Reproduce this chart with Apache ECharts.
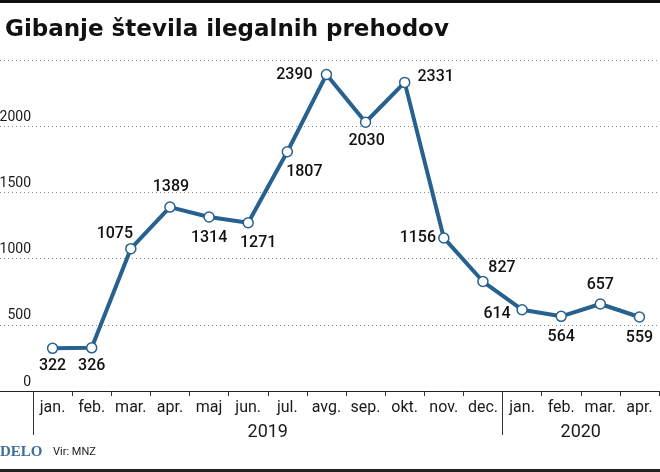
<!DOCTYPE html>
<html><head><meta charset="utf-8">
<script src="https://cdn.jsdelivr.net/npm/echarts@6/dist/echarts.min.js"></script>
<style>html,body{margin:0;padding:0;background:#fff}#c{width:660px;height:472px}</style>
</head><body><div id="c"></div>
<script>
const months = ['jan.','feb.','mar.','apr.','maj','jun.','jul.','avg.','sep.','okt.','nov.','dec.','jan.','feb.','mar.','apr.'];
const values = [322,326,1075,1389,1314,1271,1807,2390,2030,2331,1156,827,614,564,657,559];
const years = ['2019','2020'];
const monthsInYear = [12,4];
const yTicks = [0,500,1000,1500,2000,2500];
// label placement relative to each point (px)
const labelOffsets = [[0,18],[0,18],[-16,-15],[1,-20],[0,21],[10,20],[17,20],[-32,0],[1,19],[31,-5],[-26,0],[19,-14],[-25,4],[0,21],[0,-19],[0,21]];

const FONT = "Roboto, 'Liberation Sans', sans-serif";
const BLUE = '#27618f';

const yearStarts = [], yearCenters = [];
let acc = 0;
monthsInYear.forEach(n => { yearStarts.push(acc); yearCenters.push(acc + n/2); acc += n; });

const chart = echarts.init(document.getElementById('c'), null, {renderer:'canvas'});
chart.setOption({
  backgroundColor:'#fff',
  animation:false,
  title:{text:'Gibanje števila ilegalnih prehodov', left:0, top:14,
    textStyle:{fontFamily:"'DejaVu Sans', sans-serif", fontWeight:'bold', fontSize:23, color:'#111'}},
  grid:[
    {left:0, right:0, top:60, bottom:81, containLabel:false, outerBoundsMode:'none'},
    {left:33, right:1, top:60, bottom:81, containLabel:false, outerBoundsMode:'none'}
  ],
  xAxis:[
    {gridIndex:0, type:'value', min:0, max:1, axisLine:{show:true, lineStyle:{color:'#222', width:1}},
      axisTick:{show:false}, axisLabel:{show:false}, splitLine:{show:false}},
    {gridIndex:1, type:'category', data:months, boundaryGap:true,
      axisLine:{show:false},
      axisTick:{show:true, length:5, interval:0, lineStyle:{color:'#333'}},
      axisLabel:{interval:0, margin:9, fontFamily:FONT, fontSize:16, color:'#1a1a1a'}},
    {gridIndex:1, type:'value', min:0, max:acc, position:'bottom',
      axisLine:{show:false}, splitLine:{show:false},
      axisTick:{show:true, length:44, customValues:yearStarts, lineStyle:{color:'#333'}},
      axisLabel:{customValues:yearCenters, margin:32, fontFamily:FONT, fontSize:18, color:'#1a1a1a',
        formatter:function(v){ const i = yearCenters.indexOf(v); return i>=0 ? years[i] : ''; }}}
  ],
  yAxis:[
    {gridIndex:0, type:'value', min:yTicks[0], max:yTicks[yTicks.length-1], interval:yTicks[1]-yTicks[0],
      axisLine:{show:false}, axisTick:{show:false},
      splitLine:{show:true, lineStyle:{color:'#8a8a8a', type:[1,3], width:1}},
      axisLabel:{inside:true, align:'right', verticalAlign:'bottom', margin:31, padding:[0,0,2,0], showMaxLabel:false,
        fontFamily:FONT, fontSize:14, color:'#1a1a1a', formatter:function(v){ return String(v); }}},
    {gridIndex:1, type:'value', min:yTicks[0], max:yTicks[yTicks.length-1], show:false}
  ],
  series:[{
    type:'line', xAxisIndex:1, yAxisIndex:1,
    data: values.map((v,i)=>({value:v, label:{offset:labelOffsets[i]}})),
    symbol:'circle', symbolSize:10,
    lineStyle:{color:BLUE, width:4},
    itemStyle:{color:'#fff', borderColor:BLUE, borderWidth:1.5},
    label:{show:true, position:'inside', fontFamily:FONT, fontSize:16, fontWeight:500, color:'#111'},
    z:5
  }],
  graphic:[
    {type:'rect', left:0, top:0, shape:{width:660, height:3}, style:{fill:'#111'}},
    {type:'rect', left:0, top:469, shape:{width:660, height:3}, style:{fill:'#222'}},
    {type:'text', left:0, top:445, style:{text:'DELO', fontFamily:"'Liberation Serif', serif", fontWeight:'bold', fontSize:15, fill:'#3d6e99'}},
    {type:'text', left:53, top:447, style:{text:'Vir: MNZ', fontFamily:FONT, fontSize:11, fill:'#222'}}
  ]
});
</script></body></html>
